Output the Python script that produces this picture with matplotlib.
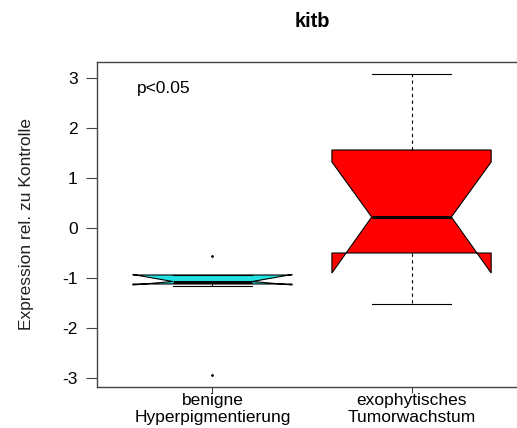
import matplotlib

matplotlib.use("Agg")
import matplotlib.pyplot as plt

plt.rcParams["font.family"] = ["Liberation Sans", "DejaVu Sans"]

# values
groups = ["benigne\nHyperpigmentierung", "exophytisches\nTumorwachstum"]
medians = [-1.07, 0.22]
q1 = [-1.12, -0.50]
q3 = [-0.94, 1.56]
notch_lo = [-1.14, -0.90]
notch_hi = [-0.93, 1.32]
whisker_lo = [-1.16, -1.52]
whisker_hi = [-0.94, 3.08]
outliers = [[-0.57, -2.94], []]
colors = ["#22e2e2", "#ff0000"]

stats = []
for i in range(len(groups)):
    stats.append(
        {
            "med": medians[i],
            "q1": q1[i],
            "q3": q3[i],
            "cilo": notch_lo[i],
            "cihi": notch_hi[i],
            "whislo": whisker_lo[i],
            "whishi": whisker_hi[i],
            "fliers": outliers[i],
            "label": groups[i],
        }
    )

fig = plt.figure(figsize=(5.17, 4.28), dpi=100)
ax = fig.add_axes([97 / 517, 41 / 428, 430 / 517, 325 / 428])

bp = ax.bxp(
    stats,
    positions=[1, 2],
    widths=0.8,
    capwidths=0.4,
    shownotches=True,
    patch_artist=True,
    boxprops=dict(edgecolor="black", linewidth=0.8),
    medianprops=dict(color="black", linewidth=2.2),
    whiskerprops=dict(color="black", linewidth=0.8, linestyle=(0, (3, 3))),
    capprops=dict(color="black", linewidth=0.8),
    flierprops=dict(marker=".", markersize=2, markerfacecolor="black", markeredgecolor="black"),
)
for patch, c in zip(bp["boxes"], colors):
    patch.set_facecolor(c)

ax.set_xlim(0.42, 2.58)
ax.set_ylim(-3.18, 3.32)
ax.set_yticks([-3, -2, -1, 0, 1, 2, 3])
ax.set_yticklabels(["-3", "-2", "-1", "0", "1", "2", "3"])
ax.tick_params(axis="y", direction="out", length=8, width=0.8, color="#444444", labelsize=12.5, pad=6)
ax.tick_params(axis="x", direction="out", length=4, width=0.8, color="#444444", labelsize=12.5, pad=0)
for side in ["left", "top", "bottom"]:
    ax.spines[side].set_color("#444444")
    ax.spines[side].set_linewidth(1.0)
ax.spines["right"].set_visible(False)

ax.set_ylabel("Expression rel. zu Kontrolle", fontsize=12.5, labelpad=20, color="#222222")
ax.set_title("kitb", fontsize=14.5, fontweight="bold", pad=25)
ax.text(0.62, 2.8, "p<0.05", fontsize=12.5, ha="left", va="center")

fig.savefig("out.png", dpi=100)
